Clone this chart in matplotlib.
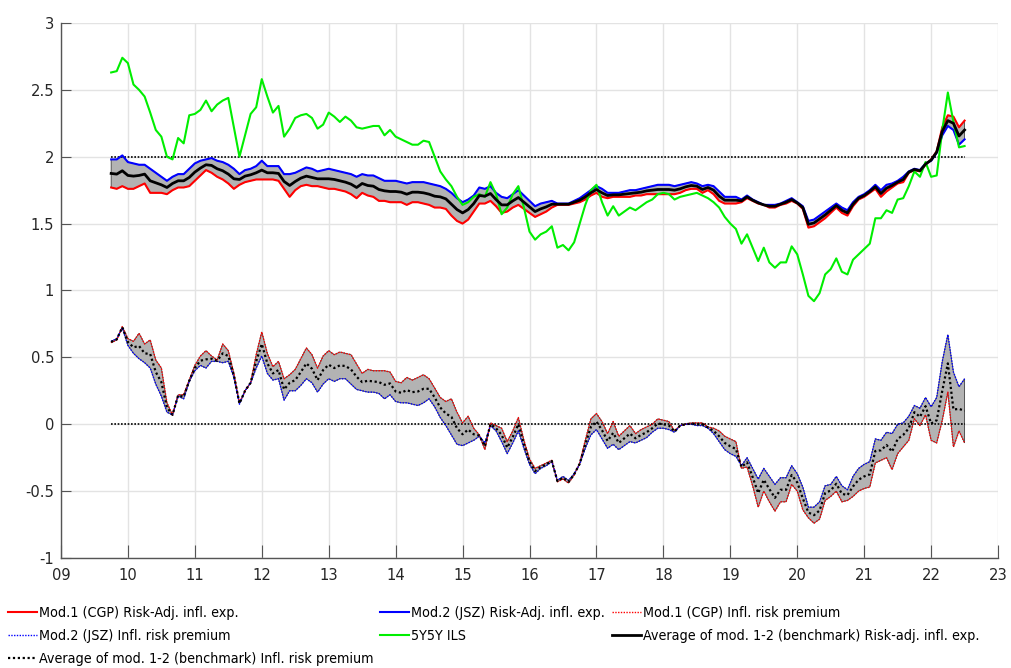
import numpy as np
import matplotlib
matplotlib.use("Agg")
import matplotlib.pyplot as plt
from matplotlib import font_manager

# monthly observations, Oct 2009 .. Jul 2022 (x axis in years since 2000)
start_year = 9.75

# Mod.1 (CGP) risk-adjusted inflation expectations
mod1_ra = (
    [1.77, 1.76, 1.78]
    + [1.76, 1.76, 1.78, 1.80, 1.73, 1.73, 1.73, 1.72, 1.75, 1.77, 1.77, 1.78]
    + [1.82, 1.86, 1.90, 1.88, 1.85, 1.83, 1.80, 1.76, 1.79, 1.81, 1.82, 1.83]
    + [1.83, 1.83, 1.83, 1.82, 1.76, 1.70, 1.75, 1.78, 1.79, 1.78, 1.78, 1.77]
    + [1.76, 1.76, 1.75, 1.74, 1.72, 1.69, 1.73, 1.71, 1.70, 1.67, 1.67, 1.66]
    + [1.66, 1.66, 1.64, 1.66, 1.66, 1.65, 1.64, 1.62, 1.62, 1.61, 1.56, 1.52]
    + [1.50, 1.53, 1.59, 1.65, 1.65, 1.67, 1.63, 1.58, 1.59, 1.62, 1.64, 1.61]
    + [1.58, 1.55, 1.57, 1.59, 1.62, 1.64, 1.64, 1.64, 1.65, 1.66, 1.68, 1.71]
    + [1.73, 1.70, 1.69, 1.70, 1.70, 1.70, 1.70, 1.71, 1.71, 1.72, 1.72, 1.72]
    + [1.72, 1.72, 1.72, 1.73, 1.75, 1.76, 1.76, 1.73, 1.75, 1.72, 1.67, 1.65]
    + [1.65, 1.65, 1.66, 1.69, 1.67, 1.65, 1.64, 1.62, 1.62, 1.64, 1.65, 1.67]
    + [1.65, 1.61, 1.47, 1.48, 1.51, 1.54, 1.58, 1.62, 1.58, 1.56, 1.63, 1.68]
    + [1.70, 1.73, 1.76, 1.70, 1.74, 1.77, 1.80, 1.81, 1.88, 1.90, 1.89, 1.94]
    + [1.98, 2.04, 2.22, 2.31, 2.30, 2.22, 2.27]
)

# Mod.2 (JSZ) risk-adjusted inflation expectations
mod2_ra = (
    [1.98, 1.98, 2.01]
    + [1.96, 1.95, 1.94, 1.94, 1.91, 1.88, 1.85, 1.82, 1.85, 1.87, 1.87, 1.91]
    + [1.95, 1.97, 1.98, 1.99, 1.97, 1.96, 1.94, 1.91, 1.87, 1.90, 1.91, 1.93]
    + [1.97, 1.93, 1.93, 1.93, 1.87, 1.87, 1.88, 1.90, 1.92, 1.91, 1.89, 1.90]
    + [1.91, 1.90, 1.89, 1.88, 1.87, 1.85, 1.87, 1.86, 1.86, 1.84, 1.82, 1.82]
    + [1.82, 1.81, 1.80, 1.81, 1.81, 1.81, 1.80, 1.79, 1.78, 1.76, 1.73, 1.69]
    + [1.66, 1.68, 1.71, 1.77, 1.76, 1.78, 1.73, 1.70, 1.69, 1.72, 1.75, 1.71]
    + [1.67, 1.63, 1.65, 1.66, 1.67, 1.65, 1.65, 1.65, 1.67, 1.69, 1.72, 1.75]
    + [1.78, 1.76, 1.73, 1.73, 1.73, 1.74, 1.75, 1.75, 1.76, 1.77, 1.78, 1.79]
    + [1.79, 1.79, 1.78, 1.79, 1.80, 1.81, 1.80, 1.78, 1.79, 1.78, 1.74, 1.70]
    + [1.70, 1.70, 1.68, 1.71, 1.68, 1.66, 1.64, 1.64, 1.64, 1.65, 1.67, 1.69]
    + [1.66, 1.63, 1.52, 1.53, 1.56, 1.59, 1.62, 1.65, 1.62, 1.60, 1.66, 1.70]
    + [1.72, 1.75, 1.79, 1.75, 1.79, 1.80, 1.82, 1.85, 1.89, 1.91, 1.90, 1.95]
    + [1.97, 2.03, 2.16, 2.23, 2.20, 2.09, 2.13]
)

# Mod.1 (CGP) inflation risk premium
mod1_irp = (
    [0.61, 0.63, 0.73]
    + [0.64, 0.62, 0.68, 0.60, 0.63, 0.48, 0.42, 0.16, 0.07, 0.22, 0.22, 0.33]
    + [0.44, 0.51, 0.55, 0.51, 0.48, 0.60, 0.55, 0.38, 0.16, 0.25, 0.31, 0.52]
    + [0.69, 0.53, 0.43, 0.47, 0.34, 0.37, 0.41, 0.49, 0.57, 0.52, 0.42, 0.51]
    + [0.55, 0.52, 0.54, 0.53, 0.52, 0.45, 0.38, 0.41, 0.40, 0.40, 0.40, 0.39]
    + [0.32, 0.31, 0.35, 0.33, 0.35, 0.37, 0.34, 0.27, 0.20, 0.17, 0.19, 0.09]
    + [0.01, 0.06, -0.03, -0.08, -0.19, 0.01, -0.01, -0.03, -0.13, -0.05, 0.05, -0.12]
    + [-0.26, -0.33, -0.31, -0.29, -0.27, -0.43, -0.41, -0.44, -0.38, -0.29, -0.12, 0.04]
    + [0.08, 0.02, -0.07, 0.02, -0.09, -0.05, -0.01, -0.07, -0.04, -0.02, 0.00, 0.04]
    + [0.03, 0.02, -0.05, -0.01, 0.00, 0.01, 0.01, 0.01, -0.02, -0.03, -0.05, -0.09]
    + [-0.11, -0.13, -0.33, -0.32, -0.46, -0.62, -0.50, -0.58, -0.65, -0.58, -0.58, -0.45]
    + [-0.50, -0.64, -0.70, -0.74, -0.71, -0.57, -0.54, -0.50, -0.58, -0.57, -0.54, -0.50]
    + [-0.48, -0.47, -0.29, -0.27, -0.25, -0.34, -0.22, -0.17, -0.12, 0.04, -0.01, 0.07]
    + [-0.12, -0.14, 0.03, 0.24, -0.17, -0.05, -0.14]
)

# Mod.2 (JSZ) inflation risk premium
mod2_irp = (
    [0.62, 0.64, 0.72]
    + [0.59, 0.53, 0.49, 0.46, 0.42, 0.30, 0.21, 0.09, 0.07, 0.21, 0.19, 0.32]
    + [0.40, 0.44, 0.42, 0.47, 0.47, 0.46, 0.47, 0.35, 0.15, 0.25, 0.31, 0.42]
    + [0.51, 0.38, 0.33, 0.34, 0.18, 0.25, 0.25, 0.29, 0.34, 0.31, 0.24, 0.30]
    + [0.34, 0.32, 0.34, 0.34, 0.30, 0.26, 0.25, 0.24, 0.24, 0.23, 0.19, 0.22]
    + [0.17, 0.16, 0.16, 0.15, 0.14, 0.16, 0.19, 0.13, 0.05, -0.01, -0.08, -0.15]
    + [-0.16, -0.14, -0.12, -0.09, -0.14, -0.01, -0.05, -0.13, -0.22, -0.14, -0.05, -0.18]
    + [-0.30, -0.37, -0.33, -0.31, -0.28, -0.42, -0.39, -0.42, -0.37, -0.30, -0.18, -0.08]
    + [-0.04, -0.11, -0.18, -0.15, -0.19, -0.16, -0.13, -0.14, -0.12, -0.10, -0.06, -0.03]
    + [-0.03, -0.04, -0.06, -0.01, 0.00, 0.00, -0.01, -0.01, -0.03, -0.07, -0.13, -0.19]
    + [-0.22, -0.24, -0.31, -0.25, -0.33, -0.41, -0.33, -0.39, -0.45, -0.40, -0.40, -0.31]
    + [-0.37, -0.47, -0.62, -0.62, -0.58, -0.46, -0.45, -0.39, -0.46, -0.49, -0.39, -0.33]
    + [-0.30, -0.28, -0.11, -0.12, -0.06, -0.07, 0.00, 0.01, 0.06, 0.14, 0.12, 0.20]
    + [0.13, 0.20, 0.47, 0.67, 0.39, 0.28, 0.34]
)

# 5Y5Y inflation-linked swap rate
ils_5y5y = (
    [2.63, 2.64, 2.74]
    + [2.70, 2.54, 2.50, 2.45, 2.33, 2.20, 2.15, 2.00, 1.98, 2.14, 2.10, 2.31]
    + [2.32, 2.35, 2.42, 2.34, 2.39, 2.42, 2.44, 2.22, 2.00, 2.16, 2.32, 2.37]
    + [2.58, 2.45, 2.33, 2.38, 2.15, 2.21, 2.29, 2.31, 2.32, 2.29, 2.21, 2.24]
    + [2.33, 2.30, 2.26, 2.30, 2.27, 2.22, 2.21, 2.22, 2.23, 2.23, 2.16, 2.20]
    + [2.15, 2.13, 2.11, 2.09, 2.09, 2.12, 2.11, 2.00, 1.89, 1.83, 1.78, 1.70]
    + [1.64, 1.66, 1.70, 1.72, 1.70, 1.81, 1.72, 1.57, 1.62, 1.72, 1.78, 1.62]
    + [1.44, 1.38, 1.42, 1.44, 1.48, 1.32, 1.34, 1.30, 1.36, 1.50, 1.64, 1.75]
    + [1.79, 1.66, 1.56, 1.63, 1.56, 1.59, 1.62, 1.60, 1.63, 1.66, 1.68, 1.72]
    + [1.73, 1.72, 1.68, 1.70, 1.71, 1.72, 1.73, 1.71, 1.69, 1.66, 1.62, 1.55]
    + [1.50, 1.46, 1.35, 1.42, 1.32, 1.22, 1.32, 1.21, 1.17, 1.21, 1.21, 1.33]
    + [1.27, 1.12, 0.96, 0.92, 0.98, 1.12, 1.16, 1.24, 1.14, 1.12, 1.23, 1.27]
    + [1.31, 1.35, 1.54, 1.54, 1.60, 1.58, 1.68, 1.69, 1.78, 1.89, 1.85, 1.96]
    + [1.85, 1.86, 2.20, 2.48, 2.26, 2.07, 2.08]
)

ref_levels = [2.0, 0.0]
year_ticks = list(range(9, 24))
year_labels = ["%02d" % y for y in year_ticks]
value_ticks = [-1, -0.5, 0, 0.5, 1, 1.5, 2, 2.5, 3]

labels = [
    "Mod.1 (CGP) Risk-Adj. infl. exp.",
    "Mod.2 (JSZ) Risk-Adj. infl. exp.",
    "Mod.1 (CGP) Infl. risk premium",
    "Mod.2 (JSZ) Infl. risk premium",
    "5Y5Y ILS",
    "Average of mod. 1-2 (benchmark) Risk-adj. infl. exp.",
    "Average of mod. 1-2 (benchmark) Infl. risk premium",
]

# pick a narrow face if one is installed
fonts = font_manager.fontManager.ttflist
fsize = 9.4
if any(f.name == "DejaVu Sans" and str(f.stretch) == "condensed" for f in fonts):
    plt.rcParams["font.family"] = "DejaVu Sans"
    plt.rcParams["font.stretch"] = "condensed"
    fsize = 10.3
elif any(f.name == "Liberation Sans Narrow" for f in fonts):
    plt.rcParams["font.family"] = "Liberation Sans Narrow"
    fsize = 11.5
plt.rcParams["axes.unicode_minus"] = False

m1_ra = np.array(mod1_ra)
m2_ra = np.array(mod2_ra)
m1_rp = np.array(mod1_irp)
m2_rp = np.array(mod2_irp)
ils = np.array(ils_5y5y)
dates = start_year + np.arange(len(m1_ra)) / 12.0
avg_ra = (m1_ra + m2_ra) / 2
avg_rp = (m1_rp + m2_rp) / 2

fig = plt.figure(figsize=(10.11, 6.68), dpi=100)
ax = fig.add_axes([0.0603, 0.1647, 0.9269, 0.8009])

# shaded band between the two models
for lo, hi in [(m1_ra, m2_ra), (m1_rp, m2_rp)]:
    xs = np.concatenate([dates, dates[::-1]])
    ys = np.concatenate([lo, hi[::-1]])
    ax.fill(xs, ys, facecolor="#b3b3b3", edgecolor="0.25", linewidth=0.6, zorder=2)

for lev in ref_levels:
    ax.plot([dates[0], dates[-1]], [lev, lev], color="k", linestyle=(0, (1, 1)),
            linewidth=1.2, zorder=2.5)

h1, = ax.plot(dates, m1_ra, color="#ff0000", linewidth=1.5, zorder=3)
h2, = ax.plot(dates, m2_ra, color="#0000ff", linewidth=1.5, zorder=3)
h3, = ax.plot(dates, m1_rp, color="#ff0000", linestyle=(0, (1, 1)), linewidth=1.0, zorder=3)
h4, = ax.plot(dates, m2_rp, color="#0000ff", linestyle=(0, (1, 1)), linewidth=1.0, zorder=3)
h5, = ax.plot(dates, ils, color="#00ee00", linewidth=1.5, zorder=3)
h6, = ax.plot(dates, avg_ra, color="k", linewidth=2.0, zorder=4)
h7, = ax.plot(dates, avg_rp, color="k", linestyle=(0, (1, 1.2)), linewidth=1.6, zorder=4)

ax.set_xlim(9, 23)
ax.set_ylim(-1, 3)
ax.set_xticks(year_ticks)
ax.set_xticklabels(year_labels)
ax.set_yticks(value_ticks)
ax.set_yticklabels(["%g" % v for v in value_ticks])
ax.grid(True, color="#e3e3e3", linewidth=1.0, zorder=0)
ax.set_axisbelow(True)
for s in ["top", "right"]:
    ax.spines[s].set_visible(False)
for s in ["left", "bottom"]:
    ax.spines[s].set_color("#555555")
    ax.spines[s].set_linewidth(1.0)
ax.tick_params(axis="x", direction="in", length=9.4, width=0.8, color="#555555",
               labelsize=fsize + 1.5, labelcolor="#262626", pad=7)
ax.tick_params(axis="y", direction="in", length=7.2, width=0.8, color="#555555",
               labelsize=fsize + 1.5, labelcolor="#262626", pad=5)

# legend is filled row by row, three entries per row
handles = [h1, h2, h3, h4, h5, h6, h7]
order = [0, 3, 6, 1, 4, 2, 5]
fig.legend([handles[i] for i in order], [labels[i] for i in order],
           loc="upper left", bbox_to_anchor=(0.008, 0.093), ncol=3, frameon=False,
           fontsize=fsize, handlelength=2.0, handletextpad=0.15, columnspacing=0.5,
           labelspacing=0.62, borderpad=0, borderaxespad=0)

fig.savefig("out.png", dpi=100)
